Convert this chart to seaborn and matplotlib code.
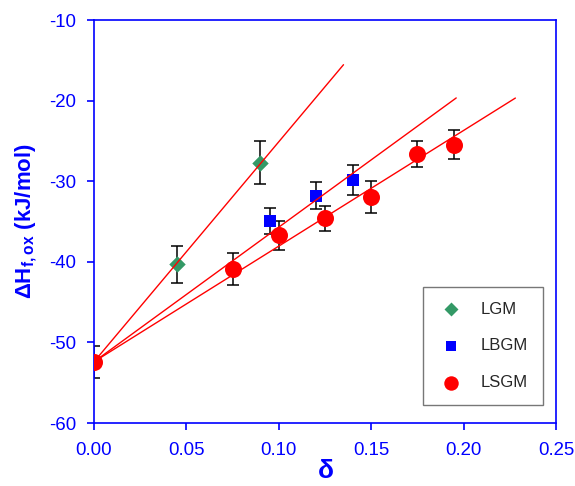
import numpy as np
import pandas as pd
import matplotlib
matplotlib.use("Agg")
import matplotlib.pyplot as plt
import seaborn as sns

# data
lgm_x = [0.045, 0.09]
lgm_y = [-40.3, -27.7]
lgm_err = [2.3, 2.7]

lbgm_x = [0.095, 0.12, 0.14]
lbgm_y = [-34.9, -31.8, -29.85]
lbgm_err = [1.6, 1.7, 1.9]

lsgm_x = [0.0, 0.075, 0.10, 0.125, 0.15, 0.175, 0.195]
lsgm_y = [-52.4, -40.9, -36.7, -34.6, -32.0, -26.6, -25.5]
lsgm_err = [2.0, 2.0, 1.8, 1.55, 2.0, 1.6, 1.8]

# fitted lines: common intercept, slope, end of line
fit_names = ["LGM", "LBGM", "LSGM"]
fit_intercept = -52.4
fit_slopes = [273.0, 167.0, 143.5]
fit_xend = [0.135, 0.196, 0.228]

colors = {"LGM": "#339966", "LBGM": "#0000FF", "LSGM": "#FF0000"}
markers = {"LGM": "D", "LBGM": "s", "LSGM": "o"}
sizes = {"LGM": 70, "LBGM": 85, "LSGM": 150}

sns.set_style("ticks")
plt.rcParams["font.family"] = ["Liberation Sans", "DejaVu Sans"]
plt.rcParams["axes.unicode_minus"] = False
plt.rcParams["mathtext.fontset"] = "custom"
plt.rcParams["mathtext.rm"] = "Liberation Sans"
plt.rcParams["mathtext.bf"] = "Liberation Sans:bold"

pts = pd.concat([
    pd.DataFrame({"x": lgm_x, "y": lgm_y, "err": lgm_err, "sample": "LGM"}),
    pd.DataFrame({"x": lbgm_x, "y": lbgm_y, "err": lbgm_err, "sample": "LBGM"}),
    pd.DataFrame({"x": lsgm_x, "y": lsgm_y, "err": lsgm_err, "sample": "LSGM"}),
], ignore_index=True)

lines = []
for name, s, xe in zip(fit_names, fit_slopes, fit_xend):
    xs = np.array([0.0, xe])
    lines.append(pd.DataFrame({"x": xs, "y": fit_intercept + s * xs, "fit": name}))
lines = pd.concat(lines, ignore_index=True)

fig = plt.figure(figsize=(5.75, 4.86), dpi=100)
ax = fig.add_axes([0.1635, 0.1296, 0.8035, 0.8292])

ax.errorbar(pts["x"], pts["y"], yerr=pts["err"], fmt="none", ecolor="black",
            elinewidth=1.1, capsize=4, capthick=1.1, zorder=2)

for name in ["LGM", "LBGM", "LSGM"]:
    sub = pts[pts["sample"] == name]
    sns.scatterplot(data=sub, x="x", y="y", ax=ax, color=colors[name],
                    marker=markers[name], s=sizes[name], linewidth=0,
                    label=name, zorder=3)

sns.lineplot(data=lines, x="x", y="y", units="fit", estimator=None, ax=ax,
             color="#FF0000", linewidth=1.0, legend=False, zorder=4)

ax.set_xlim(0, 0.25)
ax.set_ylim(-60, -10)
ax.set_xticks([0.0, 0.05, 0.10, 0.15, 0.20, 0.25])
ax.set_xticklabels(["0.00", "0.05", "0.10", "0.15", "0.20", "0.25"])
ax.set_yticks([-60, -50, -40, -30, -20, -10])

blue = "#0000FF"
for sp in ax.spines.values():
    sp.set_color(blue)
    sp.set_linewidth(1.2)
ax.tick_params(axis="both", colors=blue, labelsize=13.4, length=5, width=1.2,
               direction="out")
ax.tick_params(axis="x", pad=9)
ax.tick_params(axis="y", pad=8)

ax.set_xlabel(r"$\mathbf{\delta}$", color=blue, fontsize=19, labelpad=0)
ax.set_ylabel(r"$\mathbf{\Delta H_{f,ox}}$ (kJ/mol)", color=blue, fontsize=16,
              fontweight="bold", labelpad=7)

leg = ax.legend(loc="lower right", bbox_to_anchor=(0.972, 0.045), frameon=True,
                fancybox=False, edgecolor="#555555", fontsize=12,
                labelspacing=1.3, handletextpad=1.0, borderpad=0.9,
                handlelength=1.6, markerscale=0.85, borderaxespad=0)
leg.get_frame().set_linewidth(1.0)

fig.savefig("out.png", dpi=100)
